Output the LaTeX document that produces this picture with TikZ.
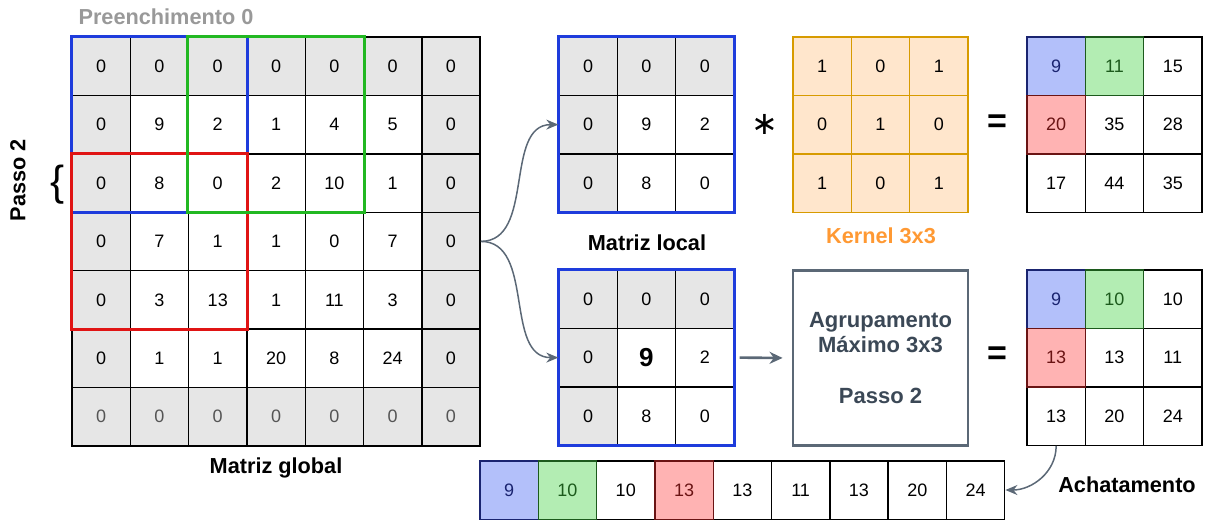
\documentclass[tikz,border=0pt]{standalone}
\usepackage{fontspec}
\setmainfont{Liberation Sans}
\newfontfamily\djv{DejaVu Sans}
\usetikzlibrary{arrows.meta}
\definecolor{padgray}{HTML}{E6E6E6}
\definecolor{bluebox}{HTML}{1E3CDC}
\definecolor{greenbox}{HTML}{22B822}
\definecolor{redbox}{HTML}{E01414}
\definecolor{bluefill}{HTML}{B3C0FA}
\definecolor{greenfill}{HTML}{B3EDB3}
\definecolor{redfill}{HTML}{FFB3B3}
\definecolor{bluetext}{HTML}{1A2470}
\definecolor{greentext}{HTML}{1C5A1C}
\definecolor{redtext}{HTML}{6A1414}
\definecolor{kfill}{HTML}{FFE6CC}
\definecolor{kdraw}{HTML}{D79B00}
\definecolor{ktext}{HTML}{FF9933}
\definecolor{slate}{HTML}{5B6876}
\definecolor{slatetext}{HTML}{3B4856}
\definecolor{zerogray}{HTML}{555555}
\definecolor{labgray}{HTML}{999999}
\begin{document}
\begin{tikzpicture}[x=1pt,y=-1pt,
  cell/.style={draw=black,line width=1.4pt,minimum width=58.3pt,minimum height=58.4pt,inner sep=0pt,font=\fontsize{18}{20}\selectfont},
  kcell/.style={cell,draw=kdraw,fill=kfill},
  bcell/.style={cell,fill=bluefill,draw=bluetext,text=bluetext},
  gcell/.style={cell,fill=greenfill,draw=greentext,text=greentext},
  rcell/.style={cell,fill=redfill,draw=redtext,text=redtext},
  frame/.style={line width=2.9pt},
  lab/.style={font=\bfseries\fontsize{21.7}{26}\selectfont,inner sep=0pt},
  conn/.style={draw=slate,line width=1.5pt,-{Stealth[length=12pt,width=10pt]}},
  opsym/.style={font=\bfseries\fontsize{34}{34}\selectfont,inner sep=0pt}]
\useasboundingbox (0,0) rectangle (1206,520);
% ---------- global matrix ----------
\fill[padgray] (72,37) rectangle (480.1,446);
\fill[white] (130.3,95.4) rectangle (421.8,387.6);
\foreach \rowvals [count=\r from 0] in {{0,0,0,0,0,0,0},{0,9,2,1,4,5,0},{0,8,0,2,10,1,0},{0,7,1,1,0,7,0},{0,3,13,1,11,3,0},{0,1,1,20,8,24,0}} {
  \foreach \v [count=\c from 0] in \rowvals {
    \node[cell] (g-\r-\c) at ({72+58.3*(\c+0.5)},{37+58.4*(\r+0.5)}) {\v};
  }
}
\foreach \c in {0,...,6} {
  \node[cell,text=zerogray] (g-6-\c) at ({72+58.3*(\c+0.5)},{37+58.4*6.5}) {0};
}
\draw[frame,bluebox] (g-0-0.north west) rectangle (g-2-2.south east);
\draw[frame,redbox] (g-2-0.north west) rectangle (g-4-2.south east);
\draw[frame,greenbox] (g-0-2.north west) rectangle (g-2-4.south east);
\node[lab,text=labgray] (pad) at (166,17) {Preenchimento 0};
\node[lab,rotate=90] (passo) at (18,180) {Passo 2};
\node[font=\fontsize{42}{42}\selectfont,inner sep=0pt] (brace) at (58,185) {\{};
\node[lab] (gl) at (276,468) {Matriz global};
% ---------- local matrices ----------
\fill[padgray] (559,37) rectangle (734,95.4);
\fill[padgray] (559,95.4) rectangle (617.3,212);
\foreach \rowvals [count=\r from 0] in {{0,0,0},{0,9,2},{0,8,0}} {
  \foreach \v [count=\c from 0] in \rowvals {
    \node[cell] (la-\r-\c) at ({559+58.3*(\c+0.5)},{37+58.4*(\r+0.5)}) {\v};
  }
}
\draw[frame,bluebox] (la-0-0.north west) rectangle (la-2-2.south east);
\node[lab] (ll) at (647,243) {Matriz local};
\fill[padgray] (559,270) rectangle (734,328.4);
\fill[padgray] (559,328.4) rectangle (617.3,445);
\foreach \rowvals [count=\r from 0] in {{0,0,0},{0,{},2},{0,8,0}} {
  \foreach \v [count=\c from 0] in \rowvals {
    \node[cell] (lb-\r-\c) at ({559+58.3*(\c+0.5)},{270+58.4*(\r+0.5)}) {\v};
  }
}
\node[font=\bfseries\fontsize{26}{26}\selectfont,inner sep=0pt] (big9) at (lb-1-1) {9};
\draw[frame,bluebox] (lb-0-0.north west) rectangle (lb-2-2.south east);
% ---------- kernel ----------
\foreach \rowvals [count=\r from 0] in {{1,0,1},{0,1,0},{1,0,1}} {
  \foreach \v [count=\c from 0] in \rowvals {
    \node[kcell] (k-\r-\c) at ({793+58.3*(\c+0.5)},{37+58.4*(\r+0.5)}) {\v};
  }
}
\node[lab,text=ktext] (kl) at (881,236) {Kernel 3x3};
\node[font=\djv\fontsize{32}{32}\selectfont,inner sep=0pt] (star) at (765,124) {∗};
\node[opsym] (eq1) at (997,124) {=};
\node[opsym] (eq2) at (997,356) {=};
% ---------- pooling box ----------
\node[draw=slate,line width=2.9pt,minimum width=175pt,minimum height=175pt,align=center,text=slatetext,font=\bfseries\fontsize{22}{25.5}\selectfont] (pool) at (880.5,358) {Agrupamento\\Máximo 3x3\\[25.5pt]Passo 2};
% ---------- results ----------
\foreach \rowvals [count=\r from 0] in {{9,11,15},{20,35,28},{17,44,35}} {
  \foreach \v [count=\c from 0] in \rowvals {
    \node[cell] (ra-\r-\c) at ({1027+58.3*(\c+0.5)},{37+58.4*(\r+0.5)}) {\v};
  }
}
\node[bcell] at (ra-0-0) {9};
\node[gcell] at (ra-0-1) {11};
\node[rcell] at (ra-1-0) {20};
\foreach \rowvals [count=\r from 0] in {{9,10,10},{13,13,11},{13,20,24}} {
  \foreach \v [count=\c from 0] in \rowvals {
    \node[cell] (rb-\r-\c) at ({1027+58.3*(\c+0.5)},{270+58.4*(\r+0.5)}) {\v};
  }
}
\node[bcell] at (rb-0-0) {9};
\node[gcell] at (rb-0-1) {10};
\node[rcell] at (rb-1-0) {13};
% ---------- flattened ----------
\foreach \v [count=\c from 0] in {9,10,10,13,13,11,13,20,24} {
  \node[cell] (f-\c) at ({480+58.3*(\c+0.5)},490) {\v};
}
\node[bcell] at (f-0) {9};
\node[gcell] at (f-1) {10};
\node[rcell] at (f-3) {13};
\node[lab] (ach) at (1127,485) {Achatamento};
% ---------- connectors ----------
\draw[conn] (g-3-6.east) to[out=0,in=180] (la-1-0.west);
\draw[conn] (g-3-6.east) to[out=0,in=180] (lb-1-0.west);
\draw[conn,line width=2.6pt,-{Stealth[length=13pt,width=12pt]},shorten <=5pt,shorten >=9pt] (lb-1-2.east) -- (pool.west);
\draw[conn] (rb-2-0.south) to[out=-90,in=0] (f-8.east);
\end{tikzpicture}
\end{document}
